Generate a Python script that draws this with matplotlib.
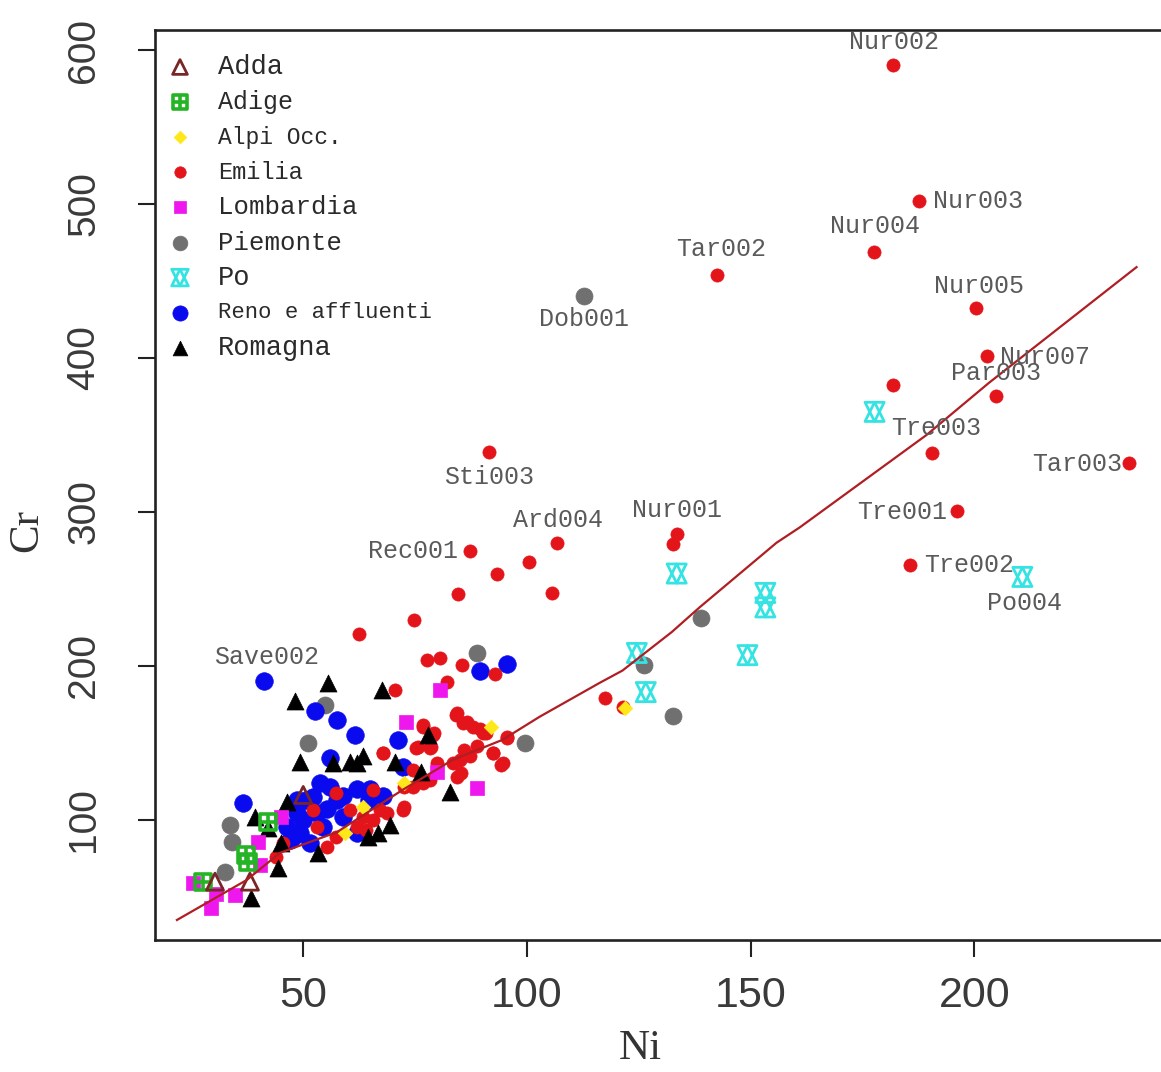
import matplotlib
matplotlib.use("Agg")
import matplotlib.pyplot as plt

# valori letti a occhio dal grafico originale (Ni vs Cr, mg/kg)
adda_ni = [30.4, 38.2, 50.1]
adda_cr = [59.9, 59.9, 116.2]

adige_ni = [42.3, 37.4, 37.8, 27.7]
adige_cr = [98.9, 77.3, 72.9, 59.9]

alpi_ni = [121.9, 92.1, 72.5, 63.5, 59.5]
alpi_cr = [172.7, 160.6, 123.8, 108.6, 91.3]

emilia_ni = [181.7, 187.7, 177.5, 142.6, 200.4, 202.9, 204.9, 181.7, 190.6, 234.6,
             196.0, 185.5, 91.6, 106.7, 133.5, 132.6, 87.3, 100.6, 93.4, 84.6,
             105.7, 74.8, 62.6, 117.4, 121.5,
             77.7, 80.6, 85.5, 92.9, 82.1, 70.5, 84.3, 85.8, 76.9, 79.1,
             75.7, 78.7, 67.9, 88.0, 90.2, 95.5, 92.5, 94.3, 85.1, 85.4,
             72.4, 74.6,
             52.3, 53.1, 57.5, 57.5, 60.5, 63.5, 65.7, 67.2, 68.7, 68.0,
             72.5, 72.5, 74.6, 76.9, 78.4, 75.3, 78.4, 76.9, 79.2, 79.9,
             83.6, 84.4, 85.9, 87.3, 88.8, 84.4, 86.6, 89.5, 91.0, 92.5,
             94.7, 95.5, 44.1, 45.6, 55.3, 64.2, 65.7, 62.0]
emilia_cr = [590.0, 502.0, 469.0, 454.0, 432.5, 401.0, 375.0, 382.5, 338.0, 332.0,
             300.6, 265.6, 339.0, 280.0, 286.0, 279.0, 274.5, 267.5, 260.0, 247.0,
             247.4, 230.0, 221.0, 179.0, 173.5,
             204.0, 205.0, 200.6, 194.5, 189.8, 184.4, 168.2, 162.8, 160.6, 155.2,
             147.6, 147.6, 143.2, 160.6, 156.3, 154.1, 143.2, 135.7, 139.0, 130.3,
             106.5, 132.5,
             106.5, 95.7, 117.3, 89.2, 106.5, 102.2, 119.5, 106.5, 104.3, 143.3,
             108.6, 121.6, 121.6, 123.8, 126.0, 146.6, 146.6, 161.7, 156.3, 136.8,
             136.8, 128.1, 145.5, 141.2, 147.7, 169.3, 163.4, 159.1, 156.3, 143.3,
             136.8, 153.0, 76.2, 84.9, 82.7, 93.5, 100.0, 95.7]

lombardia_ni = [80.6, 73.1, 88.8, 79.9, 45.2, 40.0, 40.4, 25.5, 34.8, 29.6, 30.7]
lombardia_cr = [184.4, 163.4, 120.6, 131.4, 102.2, 85.9, 70.8, 58.9, 51.3, 42.7, 51.9]

piemonte_ni = [112.7, 139.0, 126.3, 132.6, 99.6, 88.8, 54.9, 51.2, 33.7, 34.1, 32.6]
piemonte_cr = [440.0, 231.0, 200.6, 167.5, 149.8, 208.5, 174.7, 149.8, 96.8, 85.9, 66.4]

po_ni = [177.7, 133.5, 153.3, 153.3, 149.3, 124.6, 126.6, 210.7]
po_cr = [365.0, 260.0, 247.4, 238.0, 207.0, 208.4, 183.0, 257.8]

reno_ni = [41.3, 95.5, 89.5, 52.7, 57.6, 61.6, 71.2, 56.0, 36.6, 53.8,
           52.2, 48.7, 46.4, 47.1, 50.0, 55.4, 57.6, 59.0, 62.0, 65.0,
           67.9, 54.5, 49.3, 51.6, 72.3, 62.0, 53.1, 47.8, 50.8, 56.0,
           59.0, 64.9, 48.6]
reno_cr = [190.3, 201.0, 197.0, 171.0, 165.0, 155.0, 152.0, 140.0, 111.0, 124.0,
           115.0, 104.5, 95.5, 87.0, 100.0, 107.0, 113.0, 102.0, 120.0, 120.0,
           115.6, 95.5, 91.5, 85.0, 134.4, 91.6, 104.3, 89.2, 113.0, 121.6,
           115.2, 113.0, 113.0]

romagna_ni = [55.6, 48.3, 67.6, 49.3, 56.8, 60.5, 63.5, 62.0, 70.5, 77.9,
              76.5, 82.8, 46.4, 39.3, 42.3, 69.4, 66.8, 64.6, 53.4, 44.5,
              38.5, 45.1]
romagna_cr = [189.0, 177.0, 184.4, 137.8, 136.8, 137.9, 141.2, 136.8, 137.9, 155.2,
              130.8, 118.4, 111.9, 102.2, 94.6, 96.8, 91.3, 89.2, 78.4, 68.6,
              49.2, 84.9]

# curva di tendenza (lowess)
curva_ni = [21.9, 37.5, 44.9, 57.6, 72.3, 83.5, 94.6, 102.9, 116.3, 121.4,
            132.4, 138.6, 155.8, 161.0, 189.3, 203.3, 236.2]
curva_cr = [35.0, 61.0, 78.6, 92.0, 119.5, 139.0, 152.0, 167.0, 189.0, 197.0,
            222.0, 238.0, 280.0, 290.0, 350.0, 384.0, 459.0]

# etichette dei campioni anomali (posizione del testo)
etich_nome = ["Nur002", "Nur003", "Nur004", "Tar002", "Dob001", "Nur005", "Nur007",
              "Par003", "Tre003", "Tar003", "Tre001", "Tre002", "Po004", "Sti003",
              "Ard004", "Nur001", "Rec001", "Save002"]
etich_ni = [182.1, 200.7, 177.7, 143.5, 112.9, 201.1, 215.8, 204.9, 191.5, 223.0,
            183.9, 198.7, 211.2, 91.5, 106.9, 133.5, 74.6, 42.0]
etich_cr = [605.2, 502.0, 485.7, 470.8, 425.3, 446.8, 400.6, 390.3, 354.5, 331.2,
            300.0, 265.6, 240.9, 322.7, 294.8, 301.3, 274.7, 205.8]

gruppi = ["Adda", "Adige", "Alpi Occ.", "Emilia", "Lombardia", "Piemonte", "Po",
          "Reno e affluenti", "Romagna"]

dati = {
    "Adda": (adda_ni, adda_cr),
    "Adige": (adige_ni, adige_cr),
    "Alpi Occ.": (alpi_ni, alpi_cr),
    "Emilia": (emilia_ni, emilia_cr),
    "Lombardia": (lombardia_ni, lombardia_cr),
    "Piemonte": (piemonte_ni, piemonte_cr),
    "Po": (po_ni, po_cr),
    "Reno e affluenti": (reno_ni, reno_cr),
    "Romagna": (romagna_ni, romagna_cr),
}

# stile dei simboli: lista di (marker, size, facecolor, edgecolor, lw)
stili = {
    "Adda": [("^", 150, "none", "#7a2626", 2.0)],
    "Adige": [("s", 130, "none", "#25b425", 2.6), ("+", 130, "#25b425", "#25b425", 2.6)],
    "Alpi Occ.": [("D", 55, "#ffe81a", "#ffe81a", 0.5)],
    "Emilia": [("o", 90, "#e3141a", "#e3141a", 0.5)],
    "Lombardia": [("s", 100, "#ee18ee", "#ee18ee", 0.5)],
    "Piemonte": [("o", 150, "#707070", "#707070", 0.5)],
    "Po": [("^", 190, "none", "#35e3e3", 2.0), ("v", 190, "none", "#35e3e3", 2.0)],
    "Reno e affluenti": [("o", 160, "#0a0aee", "#0a0aee", 0.5)],
    "Romagna": [("^", 150, "#000000", "#000000", 0.5)],
}

# la legenda originale ha larghezze un po' diverse per voce
legenda_size = {"Adda": 19.5, "Adige": 18, "Alpi Occ.": 16.5, "Emilia": 17,
                "Lombardia": 18.5, "Piemonte": 18.5, "Po": 19.5,
                "Reno e affluenti": 16, "Romagna": 19.5}

ordine = ["Piemonte", "Reno e affluenti", "Emilia", "Romagna", "Lombardia",
          "Adige", "Adda", "Alpi Occ.", "Po"]

fig = plt.figure(figsize=(11.61, 10.72), dpi=100)
ax = fig.add_axes([155 / 1161, 1 - 940 / 1072, 1012 / 1161, 910 / 1072])

for g in ordine:
    xs, ys = dati[g]
    for m, s, fc, ec, lw in stili[g]:
        ax.scatter(xs, ys, marker=m, s=s, facecolors=fc, edgecolors=ec,
                   linewidths=lw, zorder=2)

ax.plot(curva_ni, curva_cr, color="#b01e23", lw=1.6, zorder=3)

for nome, x, y in zip(etich_nome, etich_ni, etich_cr):
    ax.text(x, y, nome, family="Liberation Mono", fontsize=18, color="#5a5a5a",
            ha="center", va="center", zorder=4, clip_on=False)

# legenda disegnata a mano, in coordinate degli assi
for i, g in enumerate(gruppi):
    yl = (940 - (67 + 35.1 * i)) / 910
    for m, s, fc, ec, lw in stili[g]:
        ax.scatter([0.0247], [yl], marker=m, s=s * 0.75, facecolors=fc, edgecolors=ec,
                   linewidths=lw, transform=ax.transAxes, clip_on=False, zorder=5)
    ax.text(0.0623, yl, g, family="Liberation Mono", fontsize=legenda_size[g],
            color="#2a2a2a", ha="left", va="center", transform=ax.transAxes, zorder=5)

ax.set_xlim(17, 243)
ax.set_ylim(22, 613)
ax.set_xticks([50, 100, 150, 200])
ax.set_yticks([100, 200, 300, 400, 500, 600])

for sp in ax.spines.values():
    sp.set_linewidth(1.9)
    sp.set_color("#222222")

ax.tick_params(axis="both", direction="out", length=12, width=1.5, colors="#222222")
ax.tick_params(axis="x", pad=14, labelsize=31, labelcolor="#3a3a3a")
ax.tick_params(axis="y", pad=26, labelsize=28, labelcolor="#3a3a3a")
for t in ax.get_xticklabels():
    t.set_family("Liberation Sans")
for t in ax.get_yticklabels():
    t.set_family("Liberation Sans")
    t.set_rotation(90)
    t.set_va("center")

ax.set_xlabel("Ni", family="Liberation Serif", fontsize=31, color="#333333")
ax.set_ylabel("Cr", family="Liberation Serif", fontsize=31, color="#333333")
ax.xaxis.set_label_coords((640 - 155) / 1012, (940 - 1049) / 910)
ax.yaxis.set_label_coords((27 - 155) / 1012, (940 - 531) / 910)
ax.xaxis.label.set_va("center")
ax.yaxis.label.set_va("center")

fig.savefig("out.png", dpi=100)
